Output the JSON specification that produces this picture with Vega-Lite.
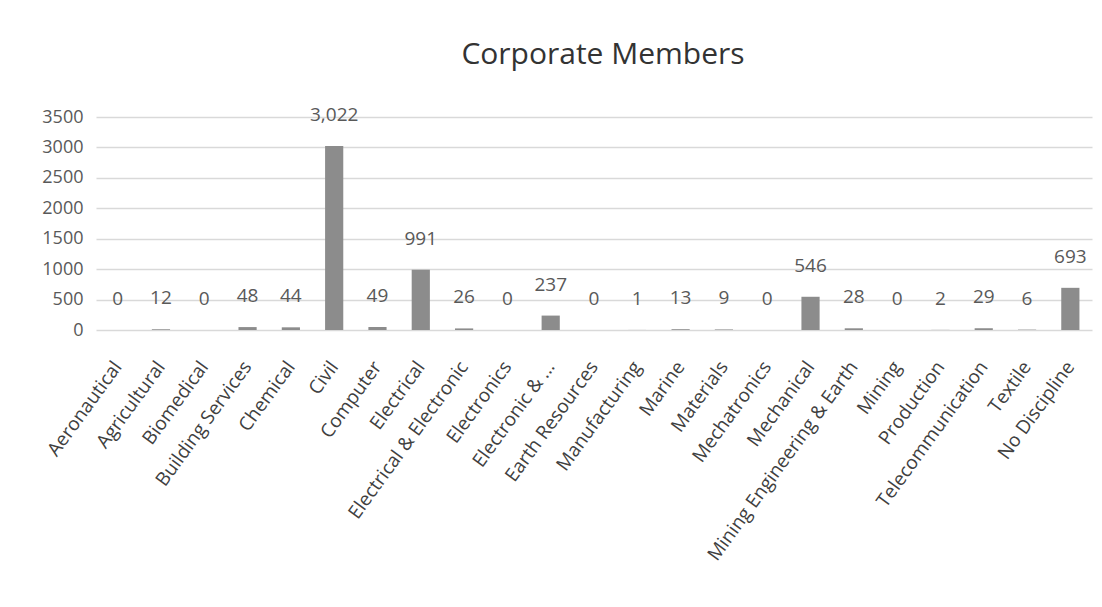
{
  "$schema": "https://vega.github.io/schema/vega-lite/v6.json",
  "autosize": {"type": "none"},
  "width": 996,
  "height": 213,
  "padding": {"left": 96, "top": 117, "right": 10, "bottom": 277},
  "background": "white",
  "title": {
    "text": "Corporate Members",
    "font": "Open Sans",
    "fontSize": 30,
    "fontWeight": "normal",
    "color": "#333333",
    "anchor": "middle",
    "dx": 9,
    "offset": 36
  },
  "data": {
    "values": [
      {"discipline": "Aeronautical", "members": 0},
      {"discipline": "Agricultural", "members": 12},
      {"discipline": "Biomedical", "members": 0},
      {"discipline": "Building Services", "members": 48},
      {"discipline": "Chemical", "members": 44},
      {"discipline": "Civil", "members": 3022},
      {"discipline": "Computer", "members": 49},
      {"discipline": "Electrical", "members": 991},
      {"discipline": "Electrical & Electronic", "members": 26},
      {"discipline": "Electronics", "members": 0},
      {"discipline": "Electronic & ...", "members": 237},
      {"discipline": "Earth Resources", "members": 0},
      {"discipline": "Manufacturing", "members": 1},
      {"discipline": "Marine", "members": 13},
      {"discipline": "Materials", "members": 9},
      {"discipline": "Mechatronics", "members": 0},
      {"discipline": "Mechanical", "members": 546},
      {"discipline": "Mining Engineering & Earth", "members": 28},
      {"discipline": "Mining", "members": 0},
      {"discipline": "Production", "members": 2},
      {"discipline": "Telecommunication", "members": 29},
      {"discipline": "Textile", "members": 6},
      {"discipline": "No Discipline", "members": 693}
    ]
  },
  "encoding": {
    "x": {
      "field": "discipline",
      "type": "nominal",
      "sort": null,
      "scale": {"paddingInner": 0.58, "paddingOuter": 0.29},
      "axis": {
        "title": null,
        "domain": false,
        "ticks": false,
        "grid": false,
        "labelAngle": -54,
        "labelAlign": "right",
        "labelBaseline": "middle",
        "labelPadding": 33,
        "labelFont": "Open Sans",
        "labelFontSize": 19,
        "labelColor": "#404040",
        "labelOverlap": false,
        "labelLimit": 400
      }
    },
    "y": {
      "field": "members",
      "type": "quantitative",
      "scale": {"domain": [0, 3500], "nice": false},
      "axis": {
        "title": null,
        "values": [0, 500, 1000, 1500, 2000, 2500, 3000, 3500],
        "format": "d",
        "domain": false,
        "ticks": false,
        "labelPadding": 13,
        "labelFont": "Open Sans",
        "labelFontSize": 18,
        "labelColor": "#595959",
        "gridColor": "#d9d9d9",
        "gridWidth": 1.5
      }
    }
  },
  "layer": [
    {"mark": {"type": "bar", "color": "#8c8c8c"}},
    {
      "mark": {
        "type": "text",
        "dy": -31,
        "baseline": "middle",
        "font": "Open Sans",
        "fontSize": 19,
        "color": "#595959"
      },
      "encoding": {
        "text": {"field": "members", "type": "quantitative", "format": ","}
      }
    }
  ],
  "config": {"view": {"stroke": null}}
}
